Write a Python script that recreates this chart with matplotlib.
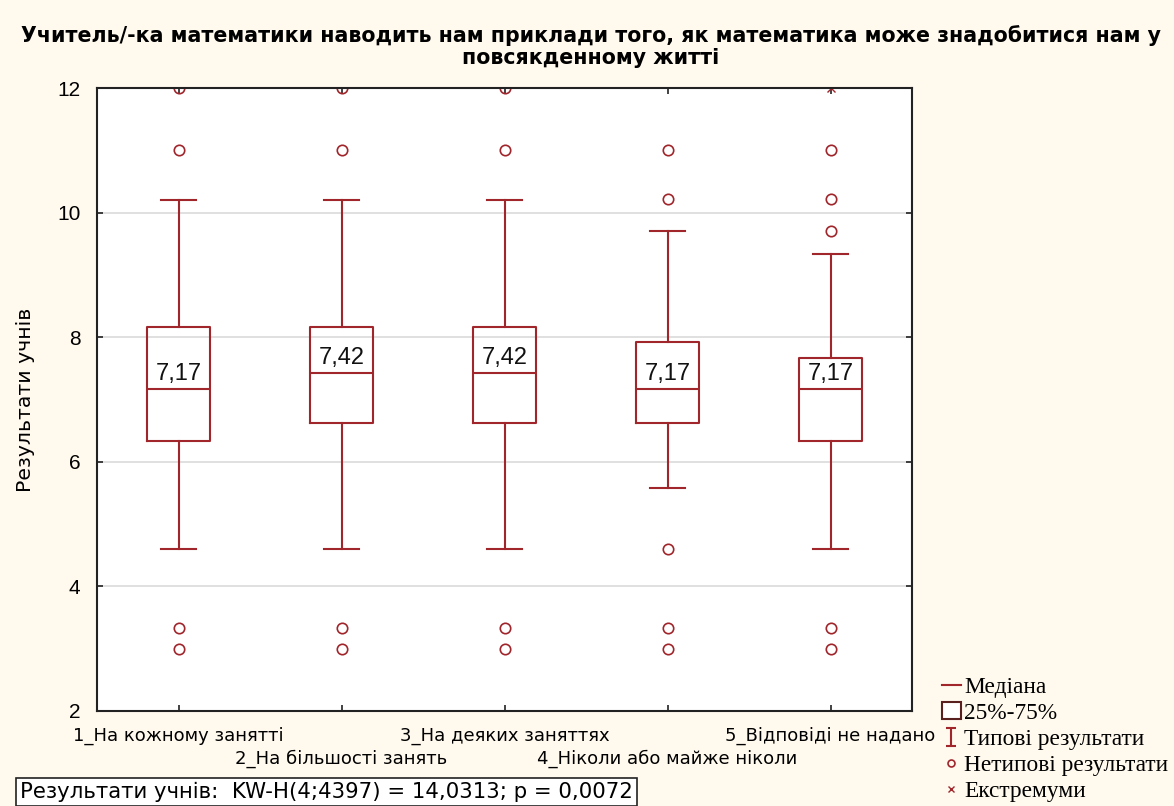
import matplotlib
matplotlib.use("Agg")
import matplotlib.pyplot as plt
from matplotlib.lines import Line2D
from matplotlib.patches import Patch
from matplotlib.path import Path

# --- data ---
categories = ["1_На кожному занятті", "2_На більшості занять", "3_На деяких заняттях",
              "4_Ніколи або майже ніколи", "5_Відповіді не надано"]
medians = [7.17, 7.42, 7.42, 7.17, 7.17]
q1 = [6.33, 6.62, 6.62, 6.62, 6.33]
q3 = [8.17, 8.17, 8.17, 7.92, 7.67]
whisk_lo = [4.6, 4.6, 4.6, 5.58, 4.6]
whisk_hi = [10.2, 10.2, 10.2, 9.7, 9.33]
outliers = [[12, 11, 3.33, 3.0],
            [12, 11, 3.33, 3.0],
            [12, 11, 3.33, 3.0],
            [11, 10.22, 4.6, 3.33, 3.0],
            [11, 10.22, 9.7, 3.33, 3.0]]
extremes = [[], [], [], [], [12]]

title = ("Учитель/-ка математики наводить нам приклади того, як математика може знадобитися нам у\n"
         "повсякденному житті")
ylabel = "Результати учнів"
stat_text = "Результати учнів:  KW-H(4;4397) = 14,0313; p = 0,0072"
legend_labels = ["Медіана", "25%-75%", "Типові результати", "Нетипові результати", "Екстремуми"]

RED = "#A0262C"
BG = "#FFF9EE"
SANS = "Liberation Sans"
WIDE = "DejaVu Sans"
SERIF = "Liberation Serif"

fig = plt.figure(figsize=(11.74, 8.06), dpi=100, facecolor=BG)
ax = fig.add_axes([97 / 1174, 1 - 711 / 806, 815 / 1174, 623 / 806])
ax.set_facecolor("white")

stats = []
for i in range(len(categories)):
    stats.append(dict(med=medians[i], q1=q1[i], q3=q3[i],
                      whislo=whisk_lo[i], whishi=whisk_hi[i], fliers=outliers[i]))

pos = list(range(1, len(categories) + 1))
ax.bxp(stats, positions=pos, widths=0.39, capwidths=0.21, showfliers=True,
       boxprops=dict(color=RED, lw=1.5),
       medianprops=dict(color=RED, lw=1.5),
       whiskerprops=dict(color=RED, lw=1.5),
       capprops=dict(color=RED, lw=1.5),
       flierprops=dict(marker="o", mfc="none", mec=RED, ms=7.5, mew=1.2))

for p, ext in zip(pos, extremes):
    if ext:
        ax.plot([p] * len(ext), ext, ls="none", marker="x", color=RED, ms=6, mew=1.0)

# median value labels inside the boxes
for p, m in zip(pos, medians):
    ax.annotate(f"{m:.2f}".replace(".", ","), (p, m), xytext=(0, 3),
                textcoords="offset points", ha="center", va="bottom",
                fontsize=17, family=SANS, color="#111111")

ax.set_xlim(0.5, len(categories) + 0.5)
ax.set_ylim(2, 12)
ax.set_yticks([2, 4, 6, 8, 10, 12])
# staggered category labels: odd ones on major ticks, even ones on minor ticks further down
ax.set_xticks(pos[::2], labels=categories[::2], family=WIDE, fontsize=13)
ax.set_xticks(pos[1::2], labels=categories[1::2], minor=True, family=WIDE, fontsize=13)
for lab in ax.get_yticklabels():
    lab.set_family(SANS)
    lab.set_fontsize(15)
ax.tick_params(axis="both", which="both", direction="in", length=4, width=1.2,
               top=True, right=True, color="#222222")
ax.tick_params(axis="x", which="major", pad=11.5)
ax.tick_params(axis="x", which="minor", pad=27.5)
ax.tick_params(axis="y", pad=12)
ax.grid(axis="y", color="#DADADA", lw=1.2)
ax.set_axisbelow(True)
for s in ax.spines.values():
    s.set_color("#222222")
    s.set_linewidth(1.5)

ax.set_ylabel(ylabel, family=WIDE, fontsize=14.7)
ax.yaxis.set_label_coords(-0.076, 0.5)

fig.text(0.503, 1 - 25 / 806, title, ha="center", va="top", family=WIDE,
         fontsize=14.8, fontweight="bold", linespacing=1.15)

fig.text(20 / 1174, 1 - 792 / 806, stat_text, ha="left", va="center", family=WIDE,
         fontsize=15.3, bbox=dict(boxstyle="square,pad=0.2", fc="white", ec="#222222", lw=1.2))

# whisker-like legend symbol: vertical bar with caps
cap_marker = Path([(-0.5, 1), (0.5, 1), (0, 1), (0, -1), (-0.5, -1), (0.5, -1)],
                  [Path.MOVETO, Path.LINETO, Path.MOVETO, Path.LINETO, Path.MOVETO, Path.LINETO])
handles = [
    Line2D([], [], color=RED, lw=1.5),
    Patch(facecolor="white", edgecolor="#5A2020", lw=1.5),
    Line2D([], [], ls="none", marker=cap_marker, color=RED, mec=RED, ms=13, mew=1.5),
    Line2D([], [], ls="none", marker="o", mfc="none", mec=RED, ms=5, mew=1.2),
    Line2D([], [], ls="none", marker="x", color=RED, ms=5, mew=1.0),
]
fig.legend(handles, legend_labels, loc="lower left", bbox_to_anchor=(928 / 1174, -0.012),
           frameon=False, prop=dict(family=SERIF, size=16.8), handlelength=0.8,
           handletextpad=0.15, labelspacing=0.2, borderaxespad=0.2)

fig.savefig("out.png", dpi=100, facecolor=BG)
